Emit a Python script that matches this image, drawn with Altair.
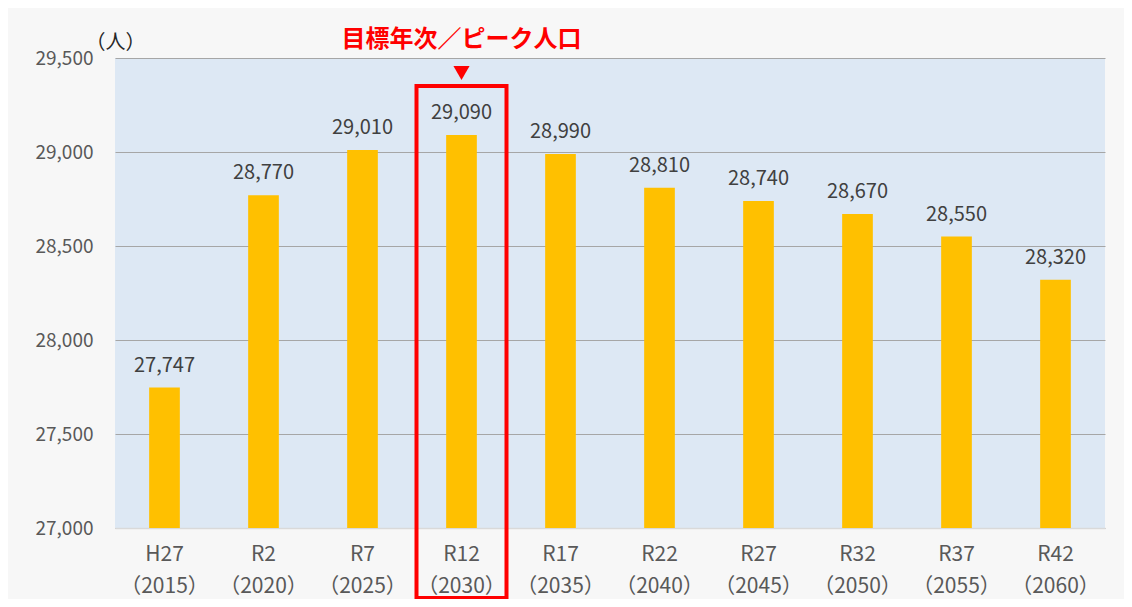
import altair as alt
import pandas as pd

categories = ["H27|（2015）", "R2|（2020）", "R7|（2025）", "R12|（2030）", "R17|（2035）",
              "R22|（2040）", "R27|（2045）", "R32|（2050）", "R37|（2055）", "R42|（2060）"]
population = [27747, 28770, 29010, 29090, 28990, 28810, 28740, 28670, 28550, 28320]
highlight_category = "R12|（2030）"
highlight_title = "目標年次／ピーク人口"
y_ticks = [27000, 27500, 28000, 28500, 29000, 29500]

df = pd.DataFrame({"cat": categories, "pop": population})
hl = pd.DataFrame({"cat": [highlight_category], "title": [highlight_title]})

FONT = "Noto Sans CJK JP"

x_scale = alt.Scale(paddingInner=0.69, paddingOuter=0.345)
x_enc = alt.X("cat:N", sort=categories, title=None, scale=x_scale,
              axis=alt.Axis(labelExpr="split(datum.label, '|')"))
y_scale = alt.Scale(domain=[27000, 29500], nice=False, zero=False)
y_enc = alt.Y("pop:Q", scale=y_scale, title="（人）",
              axis=alt.Axis(values=y_ticks, labelExpr="format(datum.value, ',')"))

bars = alt.Chart(df).mark_bar(color="#ffc000").encode(
    x=x_enc,
    y=y_enc,
    y2=alt.datum(27000),
)

labels = alt.Chart(df).mark_text(baseline="bottom", dy=-12, fontSize=20,
                                 color="#404040", font=FONT).encode(
    x=x_enc,
    y=y_enc,
    text=alt.Text("pop:Q", format=","),
)

box = alt.Chart(hl).mark_bar(filled=False, stroke="#ff0000", strokeWidth=4,
                             size=90, clip=False).encode(
    x=x_enc,
    y=alt.value(28),
    y2=alt.value(540),
)

tri = alt.Chart(hl).mark_point(shape="triangle-down", filled=True, color="#ff0000",
                               size=260, opacity=1).encode(
    x=x_enc,
    y=alt.value(15),
)

title = alt.Chart(hl).mark_text(fontSize=24, fontWeight="bold", color="#ff0000",
                                font=FONT, baseline="middle").encode(
    x=x_enc,
    y=alt.value(-18),
    text="title:N",
)

chart = alt.layer(bars, labels, box, tri, title).properties(
    width=990, height=470,
    autosize=alt.AutoSizeParams(type="none"),
    padding={"left": 107, "top": 50, "right": 19, "bottom": 71},
    background="#f7f7f7",
).configure_view(fill="#dde8f4", stroke=None).configure_axis(
    labelFont=FONT, labelColor="#595959", ticks=False,
    titleFont=FONT,
).configure_axisX(
    labelFontSize=21, labelAngle=0, labelLineHeight=32, labelPadding=15,
    domain=True, domainColor="#d9d9d9", domainWidth=1.5, grid=False,
).configure_axisY(
    labelFontSize=19, labelPadding=22, domain=False, gridColor="#a6a6a6",
    gridWidth=1.2, titleAngle=0, titleX=0, titleY=-16, titleAlign="center",
    titleBaseline="middle", titleFontSize=20, titleFontWeight="normal",
    titleColor="#262626",
)

chart.save("out.html", embed_options={"renderer": "svg", "actions": False})
